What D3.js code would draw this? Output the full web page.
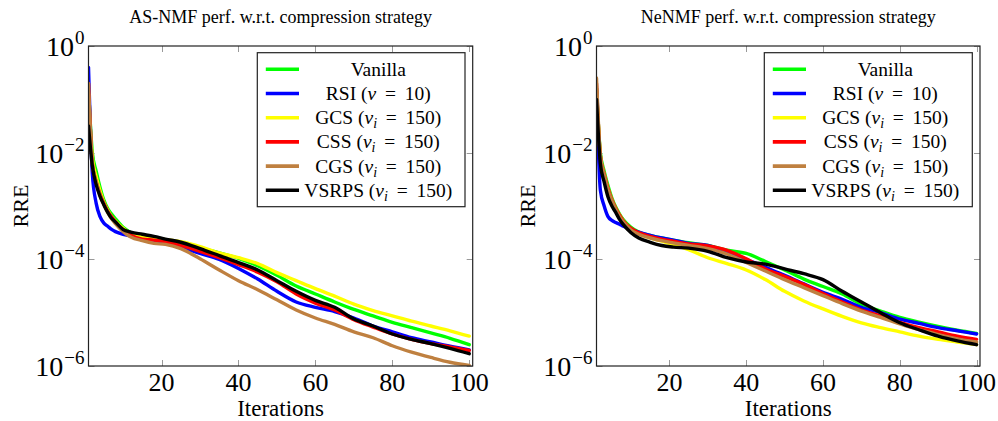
<!DOCTYPE html>
<html><head><meta charset="utf-8">
<script src="https://cdn.jsdelivr.net/npm/d3@7"></script>
<style>html,body{margin:0;padding:0;background:#fff}svg{display:block}</style>
</head><body>
<svg id="chart" width="998" height="421"></svg>
<script>
// ---------- DATA (values are log10(RRE)) ----------
const iterations = [1,2,3,4,5,6,7,8,10,12,15,18,21,25,30,35,40,45,50,55,60,65,70,75,80,85,90,95,100];
const seriesNames = ["Vanilla","RSI","GCS","CSS","CGS","VSRPS"];
const seriesColors = ["#00ff00","#0000ff","#ffff00","#ff0000","#bf8040","#000000"];
const titles = ["AS-NMF perf. w.r.t. compression strategy","NeNMF perf. w.r.t. compression strategy"];
const xTicks = [20,40,60,80,100];
const yTickExps = [0,-2,-4,-6];

// AS-NMF
const asVanilla = [-0.8,-2.0,-2.35,-2.65,-2.89,-3.05,-3.15,-3.24,-3.4,-3.5,-3.57,-3.6,-3.65,-3.7,-3.78,-3.88,-3.98,-4.12,-4.3,-4.5,-4.65,-4.8,-4.94,-5.06,-5.18,-5.28,-5.38,-5.48,-5.6];
const asRSI     = [-0.4,-2.4,-2.95,-3.2,-3.32,-3.38,-3.44,-3.48,-3.53,-3.56,-3.6,-3.64,-3.7,-3.77,-3.89,-4.0,-4.17,-4.37,-4.6,-4.8,-4.9,-4.98,-5.1,-5.25,-5.36,-5.47,-5.55,-5.63,-5.7];
const asGCS     = [-0.9,-2.1,-2.45,-2.72,-2.93,-3.08,-3.2,-3.28,-3.42,-3.52,-3.58,-3.6,-3.63,-3.67,-3.76,-3.88,-3.97,-4.08,-4.25,-4.4,-4.55,-4.69,-4.84,-4.96,-5.06,-5.16,-5.25,-5.34,-5.44];
const asCSS     = [-0.7,-2.2,-2.55,-2.78,-2.95,-3.1,-3.2,-3.3,-3.45,-3.55,-3.62,-3.64,-3.67,-3.74,-3.85,-3.97,-4.1,-4.24,-4.42,-4.65,-4.82,-4.95,-5.13,-5.27,-5.4,-5.5,-5.58,-5.64,-5.71];
const asCGS     = [-0.7,-2.2,-2.55,-2.8,-2.97,-3.12,-3.24,-3.33,-3.48,-3.58,-3.65,-3.7,-3.72,-3.8,-3.99,-4.2,-4.4,-4.57,-4.76,-4.95,-5.1,-5.22,-5.36,-5.47,-5.62,-5.74,-5.84,-5.93,-5.99];
const asVSRPS   = [-1.5,-2.25,-2.6,-2.82,-2.98,-3.12,-3.23,-3.3,-3.44,-3.49,-3.53,-3.57,-3.62,-3.68,-3.8,-3.93,-4.06,-4.2,-4.4,-4.6,-4.77,-4.9,-5.12,-5.25,-5.4,-5.5,-5.58,-5.67,-5.77];

// NeNMF
const neVanilla = [-0.8,-2.0,-2.35,-2.62,-2.85,-3.02,-3.15,-3.26,-3.4,-3.49,-3.55,-3.6,-3.64,-3.69,-3.74,-3.83,-3.89,-4.04,-4.2,-4.37,-4.51,-4.65,-4.84,-4.97,-5.09,-5.18,-5.26,-5.33,-5.39];
const neRSI     = [-0.8,-2.7,-3.0,-3.2,-3.27,-3.31,-3.34,-3.38,-3.44,-3.49,-3.55,-3.6,-3.64,-3.7,-3.74,-3.87,-4.0,-4.15,-4.3,-4.46,-4.62,-4.75,-4.9,-5.0,-5.12,-5.2,-5.28,-5.34,-5.4];
const neGCS     = [-0.8,-2.05,-2.4,-2.67,-2.88,-3.04,-3.17,-3.28,-3.43,-3.52,-3.6,-3.66,-3.72,-3.82,-3.97,-4.08,-4.2,-4.38,-4.6,-4.78,-4.93,-5.07,-5.19,-5.28,-5.36,-5.44,-5.5,-5.55,-5.6];
const neCSS     = [-0.7,-2.05,-2.4,-2.67,-2.88,-3.04,-3.17,-3.28,-3.42,-3.5,-3.57,-3.62,-3.66,-3.71,-3.75,-3.83,-3.99,-4.18,-4.32,-4.47,-4.64,-4.8,-4.95,-5.06,-5.18,-5.28,-5.36,-5.44,-5.5];
const neCGS     = [-0.6,-2.05,-2.42,-2.7,-2.9,-3.06,-3.2,-3.3,-3.45,-3.53,-3.6,-3.65,-3.69,-3.74,-3.8,-3.9,-4.06,-4.22,-4.38,-4.53,-4.68,-4.83,-4.97,-5.09,-5.21,-5.32,-5.41,-5.49,-5.55];
const neVSRPS   = [-1.0,-2.2,-2.55,-2.83,-3.0,-3.12,-3.25,-3.35,-3.5,-3.6,-3.68,-3.74,-3.77,-3.79,-3.85,-3.97,-4.05,-4.09,-4.18,-4.27,-4.38,-4.6,-4.8,-5.0,-5.19,-5.32,-5.44,-5.53,-5.6];

const panels = [
  {title: titles[0], series: [asVanilla, asRSI, asGCS, asCSS, asCGS, asVSRPS], x0: 88.5, x1: 472.7, legX: 257.3, legW: 207.7, rreX: 28},
  {title: titles[1], series: [neVanilla, neRSI, neGCS, neCSS, neCGS, neVSRPS], x0: 596.5, x1: 980, legX: 764.3, legW: 208, rreX: 535}
];

const svg = d3.select("#chart");
const FONT = "'Liberation Serif','Times New Roman',serif";
const yTop = 46, yBot = 366;

panels.forEach((p, pi) => {
  const x = d3.scaleLinear().domain([1, 100.9]).range([p.x0, p.x1]);
  const y = d3.scaleLog().domain([1e-6, 1]).range([yBot, yTop]);
  const g = svg.append("g");
  const clipId = "clip" + pi;
  svg.append("clipPath").attr("id", clipId).append("rect")
    .attr("x", p.x0).attr("y", yTop).attr("width", p.x1 - p.x0).attr("height", yBot - yTop);

  // ticks (grey, inside)
  const tg = g.append("g").attr("stroke", "#999").attr("stroke-width", 1);
  xTicks.forEach(t => {
    const xx = Math.round(x(t)) + 0.5;
    tg.append("line").attr("x1", xx).attr("x2", xx).attr("y1", yBot).attr("y2", yBot - 6);
    tg.append("line").attr("x1", xx).attr("x2", xx).attr("y1", yTop).attr("y2", yTop + 6);
  });
  yTickExps.forEach(e => {
    const yy = Math.round(y(Math.pow(10, e))) + 0.5;
    tg.append("line").attr("x1", p.x0).attr("x2", p.x0 + 6).attr("y1", yy).attr("y2", yy);
    tg.append("line").attr("x1", p.x1).attr("x2", p.x1 - 6).attr("y1", yy).attr("y2", yy);
  });

  // lines
  const line = d3.line().x((d, i) => x(iterations[i])).y(d => y(Math.pow(10, d))).curve(d3.curveMonotoneX);
  const lg = g.append("g").attr("clip-path", `url(#${clipId})`);
  p.series.forEach((s, si) => {
    lg.append("path").datum(s).attr("d", line).attr("fill", "none")
      .attr("stroke", seriesColors[si]).attr("stroke-width", 3.4)
      .attr("stroke-linejoin", "round").attr("stroke-linecap", "round");
  });

  // frame
  g.append("rect").attr("x", p.x0).attr("y", yTop).attr("width", p.x1 - p.x0).attr("height", yBot - yTop)
    .attr("fill", "none").attr("stroke", "#222").attr("stroke-width", 1.2);

  // x tick labels
  xTicks.forEach(t => {
    g.append("text").attr("x", x(t)).attr("y", 391).attr("text-anchor", "middle")
      .attr("font-family", FONT).attr("font-size", 26).text(t);
  });
  // y tick labels
  yTickExps.forEach(e => {
    const t = g.append("text").attr("x", p.x0 - 4).attr("y", y(Math.pow(10, e)) + 10)
      .attr("text-anchor", "end").attr("font-family", FONT).attr("font-size", 28);
    t.append("tspan").text("10");
    t.append("tspan").attr("dx", 1).attr("dy", -12).attr("font-size", 19).text(e === 0 ? "0" : "\u2212" + (-e));
  });

  // title
  g.append("text").attr("x", (p.x0 + p.x1) / 2).attr("y", 23).attr("text-anchor", "middle")
    .attr("font-family", FONT).attr("font-size", 18).text(p.title);
  // axis labels
  g.append("text").attr("x", (p.x0 + p.x1) / 2).attr("y", 416).attr("text-anchor", "middle")
    .attr("font-family", FONT).attr("font-size", 23).text("Iterations");
  g.append("text").attr("transform", `translate(${p.rreX},${(yTop + yBot) / 2}) rotate(-90)`)
    .attr("text-anchor", "middle").attr("font-family", FONT).attr("font-size", 22).text("RRE");

  // legend
  const leg = g.append("g");
  leg.append("rect").attr("x", p.legX).attr("y", 52.7).attr("width", p.legW).attr("height", 154)
    .attr("fill", "#fff").attr("stroke", "#222").attr("stroke-width", 1.2);
  const labels = [
    [{t: "Vanilla"}],
    [{t: "RSI ("}, {t: "\u03bd", it: true}, {t: " \u2009= \u200910)"}],
    [{t: "GCS ("}, {t: "\u03bd", it: true}, {t: "i", it: true, sub: true}, {t: " \u2009= \u2009150)"}],
    [{t: "CSS ("}, {t: "\u03bd", it: true}, {t: "i", it: true, sub: true}, {t: " \u2009= \u2009150)"}],
    [{t: "CGS ("}, {t: "\u03bd", it: true}, {t: "i", it: true, sub: true}, {t: " \u2009= \u2009150)"}],
    [{t: "VSRPS ("}, {t: "\u03bd", it: true}, {t: "i", it: true, sub: true}, {t: " \u2009= \u2009150)"}]
  ];
  seriesNames.forEach((n, si) => {
    const cy = 69.3 + si * 24.2;
    leg.append("line").attr("x1", p.legX + 8.5).attr("x2", p.legX + 41.7).attr("y1", cy).attr("y2", cy)
      .attr("stroke", seriesColors[si]).attr("stroke-width", 3.6);
    const t = leg.append("text").attr("x", p.legX + 121).attr("y", cy + 6.5).attr("text-anchor", "middle")
      .attr("font-family", FONT).attr("font-size", 19.5);
    let shifted = false;
    labels[si].forEach(part => {
      const ts = t.append("tspan").text(part.t);
      if (part.it) ts.attr("font-style", "italic");
      if (part.sub) { ts.attr("dy", 4).attr("font-size", 14); shifted = true; }
      else if (shifted) { ts.attr("dy", -4); shifted = false; }
    });
  });
});
</script>
</body></html>
